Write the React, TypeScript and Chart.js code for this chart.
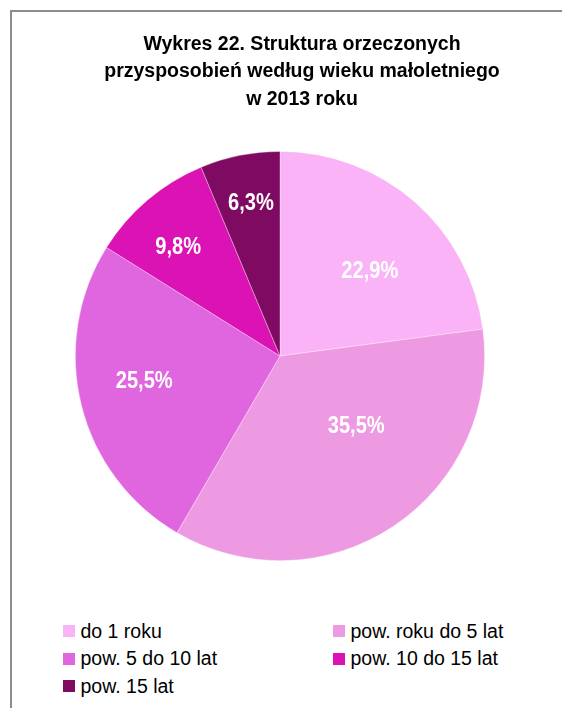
import React, { useEffect, useRef } from "react";
import { Chart, registerables } from "chart.js";

Chart.register(...registerables);

const titleLines = [
  "Wykres 22. Struktura orzeczonych",
  "przysposobień według wieku małoletniego",
  "w 2013 roku",
];
const categories = [
  "do 1 roku",
  "pow. roku do 5 lat",
  "pow. 5 do 10 lat",
  "pow. 10 do 15 lat",
  "pow. 15 lat",
];
const values = [22.9, 35.5, 25.5, 9.8, 6.3];
const valueLabels = ["22,9%", "35,5%", "25,5%", "9,8%", "6,3%"];
const colors = ["#F9B3F6", "#EE9AE2", "#E066E0", "#DB12B4", "#7F0A62"];

// label placement (fraction of radius, angle nudge in degrees)
const labelRadius = [0.61, 0.5, 0.673, 0.735, 0.77];
const labelNudge = [4.8, -14.5, 4.3, -2.3, 0.7];

const FONT = '"Liberation Sans", Arial, sans-serif';

const sliceLabels = {
  id: "sliceLabels",
  afterDatasetsDraw(chart: any) {
    const ctx = chart.ctx;
    const meta = chart.getDatasetMeta(0);
    const size = 24.5;
    meta.data.forEach((arc: any, i: number) => {
      const p = arc.getProps(["x", "y", "startAngle", "endAngle", "outerRadius"], true);
      const mid = (p.startAngle + p.endAngle) / 2 + (labelNudge[i] * Math.PI) / 180;
      const r = p.outerRadius * labelRadius[i];
      const lx = p.x + Math.cos(mid) * r;
      const ly = p.y + Math.sin(mid) * r;
      ctx.save();
      ctx.translate(lx, ly + size * 0.358);
      ctx.scale(0.82, 1);
      ctx.font = `bold ${size}px ${FONT}`;
      ctx.fillStyle = "#ffffff";
      ctx.textAlign = "center";
      ctx.textBaseline = "alphabetic";
      ctx.fillText(valueLabels[i], 0, 0);
      ctx.restore();
    });
  },
};

export default function App() {
  const ref = useRef<HTMLCanvasElement>(null);

  useEffect(() => {
    if (!ref.current) return;
    const chart = new Chart(ref.current, {
      type: "pie",
      data: {
        labels: categories,
        datasets: [
          {
            data: values,
            backgroundColor: colors,
            borderColor: "rgba(255,255,255,0.45)",
            borderWidth: 0.75,
          },
        ],
      },
      options: {
        responsive: false,
        animation: false,
        layout: { padding: { left: 75, right: 77, top: 151, bottom: 39 } },
        plugins: {
          legend: { display: false },
          tooltip: { enabled: false },
          title: { display: false },
        },
      },
      plugins: [sliceLabels],
    });
    return () => chart.destroy();
  }, []);

  const legendCols = [63, 333];
  const rowTop = 617.25;
  const rowH = 27.5;

  return (
    <div
      style={{
        position: "absolute",
        left: 0,
        top: 0,
        width: 562,
        height: 708,
        overflow: "hidden",
        background: "#fff",
      }}
    >
      <div
        style={{
          position: "absolute",
          left: 10,
          top: 10,
          width: 700,
          height: 800,
          borderLeft: "2px solid #8c8c8c",
          borderTop: "2px solid #8c8c8c",
        }}
      />
      <canvas
        ref={ref}
        width={562}
        height={600}
        style={{ position: "absolute", left: 0, top: 0 }}
      />
      <div
        style={{
          position: "absolute",
          left: 0,
          top: 29.5,
          width: 604,
          textAlign: "center",
          font: `bold 19.5px ${FONT}`,
          lineHeight: "27.5px",
          color: "#000",
        }}
      >
        {titleLines.map((t, i) => (
          <div key={i}>{t}</div>
        ))}
      </div>
      {categories.map((c, i) => (
        <div
          key={c}
          style={{
            position: "absolute",
            left: legendCols[i % 2],
            top: rowTop + Math.floor(i / 2) * rowH,
            height: rowH,
            display: "flex",
            alignItems: "center",
            font: `19.5px ${FONT}`,
            color: "#000",
            whiteSpace: "nowrap",
          }}
        >
          <span
            style={{
              display: "inline-block",
              width: 12,
              height: 12,
              background: colors[i],
              marginRight: 5.5,
            }}
          />
          <span>{c}</span>
        </div>
      ))}
    </div>
  );
}
